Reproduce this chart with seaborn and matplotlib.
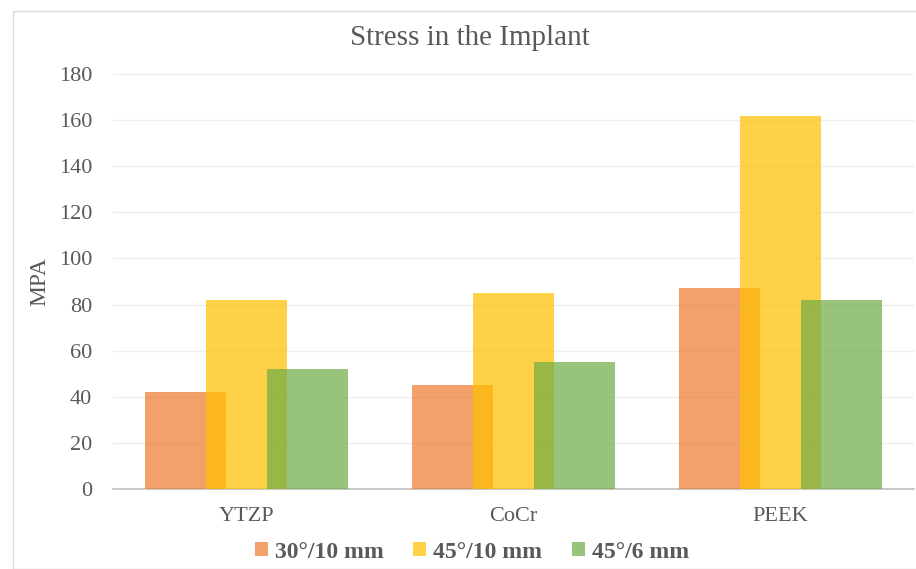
import matplotlib
matplotlib.use("Agg")
import matplotlib.pyplot as plt
import seaborn as sns
import numpy as np
from matplotlib.patches import Rectangle, Patch

categories = ["YTZP", "CoCr", "PEEK"]
series_names = ["30°/10 mm", "45°/10 mm", "45°/6 mm"]
vals_30_10 = [42, 45, 87]
vals_45_10 = [82, 85, 162]
vals_45_6 = [52, 55, 82]
yticks = [0, 20, 40, 60, 80, 100, 120, 140, 160, 180]

colors = ["#ED7D31", "#FFC000", "#70AD47"]
offsets = [-0.228, 0.0, 0.228]
bar_w = 0.303

sns.set_theme(style="white")
plt.rcParams['font.family'] = ['Liberation Serif', 'DejaVu Serif']

fig = plt.figure(figsize=(9.16, 5.69), dpi=100)
ax = fig.add_axes([113/916, 1-489/569, (914-113)/916, (489-74)/569])

idx = np.arange(len(categories))
for vals, col, off in zip([vals_30_10, vals_45_10, vals_45_6], colors, offsets):
    sns.barplot(x=idx + off, y=vals, native_scale=True, width=bar_w, color=col,
                alpha=0.72, saturation=1, linewidth=0, ax=ax, zorder=3, errorbar=None)

ax.set_xlim(-0.5, 2.5)
ax.set_ylim(0, 180)
ax.set_xticks(idx)
ax.set_xticklabels(categories)
ax.set_yticks(yticks)
ax.tick_params(axis='both', length=0, labelsize=16, colors="#595959")
ax.tick_params(axis='y', pad=15)
ax.tick_params(axis='x', pad=13)
ax.yaxis.grid(True, color="#efefef", linewidth=1, zorder=0)
ax.set_axisbelow(True)
for s in ["top", "right", "left"]:
    ax.spines[s].set_visible(False)
ax.spines["bottom"].set_color("#bfbfbf")
ax.spines["bottom"].set_linewidth(1.2)
ax.set_ylabel("MPA", fontsize=17, color="#595959", labelpad=6)
ax.set_xlabel("")

fig.text(470/916, 1-38/569, "Stress in the Implant", ha="center", va="center",
         fontsize=21, color="#595959")

handles = [Patch(facecolor=c, alpha=0.72, edgecolor="none") for c in colors]
leg = fig.legend(handles, series_names, loc="center", bbox_to_anchor=(472/916, 1-552/569),
                 ncol=3, frameon=False, prop={"weight": "bold", "size": 17},
                 handlelength=0.55, handleheight=0.55, columnspacing=1.25, handletextpad=0.3,
                 borderpad=0)
for t in leg.get_texts():
    t.set_color("#595959")

fig.patches.append(Rectangle((13/916, 0), 1, 1-11/569, transform=fig.transFigure,
                             fill=False, edgecolor="#d9d9d9", linewidth=1, zorder=0))

fig.savefig("out.png", dpi=100)
